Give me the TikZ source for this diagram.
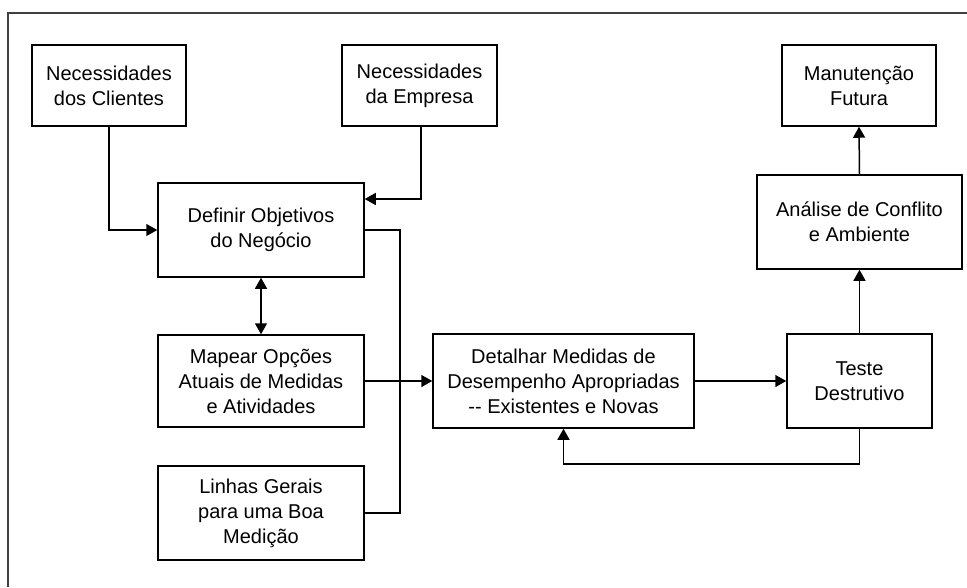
\documentclass[tikz,border=0pt]{standalone}
\usepackage{fontspec}
\setmainfont{Liberation Sans}
\usetikzlibrary{arrows.meta,calc}
\begin{document}
\begin{tikzpicture}[x=1pt,y=-1pt,
  every node/.style={font=\fontsize{20}{25}\selectfont},
  stage/.style={draw=black, line width=1.5pt, fill=white, align=center,
    inner sep=0pt, minimum width=#1},
  stage/.default=206pt,
  tip/.style={Triangle[length=11pt,width=12pt]},
  link/.style={line width=1.5pt, -{Triangle[length=11pt,width=12pt]}},
  plain/.style={line width=1.5pt}]
  \useasboundingbox (0,0) rectangle (967,587);
  % outer frame, open to the right and bottom
  \draw[line width=1.9pt, black!75] (8,587) -- (8,13) -- (967,13);

  % stages
  \node[stage=154pt, minimum height=81pt] (cli) at (109,85.5) {Necessidades\\dos Clientes};
  \node[stage=155pt, minimum height=81pt] (emp) at (419.5,85.5) {Necessidades\\da Empresa};
  \node[stage=154pt, minimum height=81pt] (man) at (859,85.5) {Manutenção\\Futura};
  \node[stage, minimum height=94pt] (def) at (261,230) {Definir Objetivos\\do Negócio};
  \node[stage=205pt, minimum height=94pt] (ana) at (859.5,222) {Análise de Conflito\\e Ambiente};
  \node[stage, minimum height=92pt] (map) at (261,381) {Mapear Opções\\Atuais de Medidas\\e Atividades};
  \node[stage=261pt, minimum height=94pt] (det) at (563.5,381) {Detalhar Medidas de\\Desempenho Apropriadas\\-{}- Existentes e Novas};
  \node[stage=145pt, minimum height=94pt] (tes) at (859.5,381) {Teste\\Destrutivo};
  \node[stage, minimum height=94pt] (lin) at (261,513) {Linhas Gerais\\para uma Boa\\Medição};

  % bus collecting the inputs of the detailing stage
  \coordinate (bus) at (400,381);

  % connectors
  \draw[link] (cli.south) |- (def.west);
  \draw[link] ([xshift=1.5pt]emp.south) |- ([yshift=31pt]def.east);
  \draw[plain] (def.east) -| (bus) |- (lin.east);
  \draw[link] (map.east) -- (det.west);
  \draw[line width=1.5pt, {Triangle[length=11pt,width=12pt]}-{Triangle[length=11pt,width=12pt]}] (def.south) -- (map.north);
  \draw[link] (det.east) -- (tes.west);
  \draw[link] (tes.south) -- ++(0,35) -| (det.south);
  \draw[link] (tes.north) -- (ana.south);
  \draw[link] (ana.north) -- (man.south);
\end{tikzpicture}
\end{document}
